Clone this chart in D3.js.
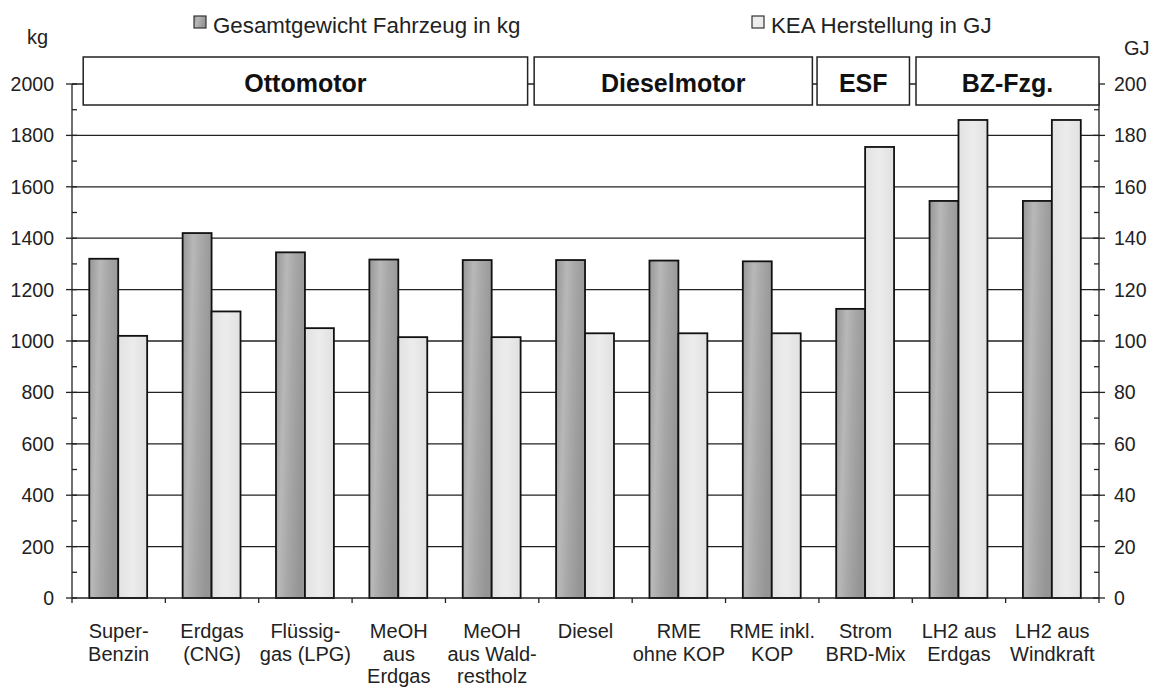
<!DOCTYPE html>
<html><head><meta charset="utf-8">
<script src="https://cdn.jsdelivr.net/npm/d3@7"></script>
<style>body{margin:0;background:#fff}svg{display:block;font-family:"Liberation Sans",Arial,sans-serif}</style>
</head><body>
<svg id="c" width="1158" height="688"></svg>
<script>
const categories = [["Super-","Benzin"],["Erdgas","(CNG)"],["Flüssig-","gas (LPG)"],["MeOH","aus","Erdgas"],["MeOH","aus Wald-","restholz"],["Diesel"],["RME","ohne KOP"],["RME inkl.","KOP"],["Strom","BRD-Mix"],["LH2 aus","Erdgas"],["LH2 aus","Windkraft"]];
const gewichtKg = [1320,1420,1345,1317,1315,1315,1313,1310,1125,1545,1545];
const keaGJ = [102,111.5,105,101.5,101.5,103,103,103,175.5,186,186];
const kgTicks = [0,200,400,600,800,1000,1200,1400,1600,1800,2000];
const gjTicks = [0,20,40,60,80,100,120,140,160,180,200];
const groups = [{name:"Ottomotor",from:0.12,to:4.88},{name:"Dieselmotor",from:4.95,to:7.93},{name:"ESF",from:7.98,to:8.97},{name:"BZ-Fzg.",from:9.04,to:11}];
const seriesNames = ["Gesamtgewicht Fahrzeug in kg","KEA Herstellung in GJ"];

const svg = d3.select("#c");
const L=72,R=1099,T=84,B=598;
const defs = svg.append("defs");
const gd = defs.append("linearGradient").attr("id","gDark").attr("x1","0").attr("x2","1").attr("y1","0").attr("y2","0.3");
[[0,"#969696"],[0.35,"#b8b8b8"],[0.6,"#a8a8a8"],[1,"#959595"]].forEach(s=>gd.append("stop").attr("offset",s[0]).attr("stop-color",s[1]));
const gl = defs.append("linearGradient").attr("id","gLight").attr("x1","0").attr("x2","1");
[[0,"#e2e2e2"],[0.5,"#ececec"],[1,"#e0e0e0"]].forEach(s=>gl.append("stop").attr("offset",s[0]).attr("stop-color",s[1]));

const x = d3.scaleBand().domain(d3.range(categories.length)).range([L,R]).padding(0);
const xi = d3.scaleLinear().domain([0,categories.length]).range([L,R]);
const yL = d3.scaleLinear().domain([0,2000]).range([B,T]);
const yR = d3.scaleLinear().domain([0,200]).range([B,T]);
const bw = x.bandwidth()*0.31, off = x.bandwidth()*0.185;

// gridlines
svg.append("g").selectAll("line").data(kgTicks.filter(d=>d>0)).join("line")
  .attr("x1",L).attr("x2",R).attr("y1",d=>yL(d)).attr("y2",d=>yL(d))
  .attr("stroke","#222").attr("stroke-width",1.3);

// bars
const g = svg.append("g");
g.selectAll("rect.d").data(gewichtKg).join("rect").attr("class","d")
  .attr("x",(d,i)=>x(i)+off).attr("width",bw).attr("y",d=>yL(d)).attr("height",d=>B-yL(d))
  .attr("fill","url(#gDark)").attr("stroke","#111").attr("stroke-width",1.8);
g.selectAll("rect.l").data(keaGJ).join("rect").attr("class","l")
  .attr("x",(d,i)=>x(i)+off+bw).attr("width",bw).attr("y",d=>yR(d)).attr("height",d=>B-yR(d))
  .attr("fill","url(#gLight)").attr("stroke","#111").attr("stroke-width",1.8);

// axes
const ax = svg.append("g").attr("stroke","#222").attr("stroke-width",1.3);
ax.append("line").attr("x1",L).attr("x2",L).attr("y1",T).attr("y2",B);
ax.append("line").attr("x1",R).attr("x2",R).attr("y1",T).attr("y2",B);
ax.append("line").attr("x1",L).attr("x2",R).attr("y1",B).attr("y2",B);
kgTicks.forEach(t=>{ax.append("line").attr("x1",L-6).attr("x2",L+5).attr("y1",yL(t)).attr("y2",yL(t));});
d3.range(100,2000,200).forEach(t=>{ax.append("line").attr("x1",L).attr("x2",L+5).attr("y1",yL(t)).attr("y2",yL(t));});
gjTicks.forEach(t=>{ax.append("line").attr("x1",R-6).attr("x2",R+6).attr("y1",yR(t)).attr("y2",yR(t));});
d3.range(10,200,20).forEach(t=>{ax.append("line").attr("x1",R-5).attr("x2",R).attr("y1",yR(t)).attr("y2",yR(t));});
d3.range(0,categories.length+1).forEach(i=>{ax.append("line").attr("x1",xi(i)).attr("x2",xi(i)).attr("y1",B).attr("y2",B+5);});

const txt = svg.append("g").attr("fill","#222").attr("font-size",19.5);
txt.selectAll("text.yl").data(kgTicks).join("text").attr("class","yl")
  .attr("x",L-18).attr("y",d=>yL(d)+7).attr("text-anchor","end").text(d=>d);
txt.selectAll("text.yr").data(gjTicks).join("text").attr("class","yr")
  .attr("x",R+15).attr("y",d=>yR(d)+7).attr("text-anchor","start").text(d=>d);
txt.append("text").attr("x",27).attr("y",44).attr("font-size",20).text("kg");
txt.append("text").attr("x",1124).attr("y",55).attr("font-size",20).text("GJ");

// x labels
const xl = svg.append("g").attr("fill","#222").attr("font-size",20).attr("text-anchor","middle");
categories.forEach((c,i)=>{
  const t = xl.append("text").attr("x",x(i)+x.bandwidth()/2).attr("y",638);
  c.forEach((s,j)=>t.append("tspan").attr("x",x(i)+x.bandwidth()/2).attr("dy",j?22.5:0).text(s));
});

// group boxes
const gb = svg.append("g");
groups.forEach(gr=>{
  gb.append("rect").attr("x",xi(gr.from)).attr("width",xi(gr.to)-xi(gr.from)).attr("y",57).attr("height",48)
    .attr("fill","#fff").attr("stroke","#222").attr("stroke-width",1.5);
  gb.append("text").attr("x",(xi(gr.from)+xi(gr.to))/2).attr("y",92).attr("text-anchor","middle")
    .attr("font-size",25).attr("font-weight","bold").attr("fill","#111").text(gr.name);
});

// legend
const lg = svg.append("g").attr("font-size",22.3).attr("fill","#222");
[[194,"url(#gDark)"],[752,"#ececec"]].forEach((p,i)=>{
  lg.append("rect").attr("x",p[0]).attr("y",16).attr("width",12).attr("height",12).attr("fill",p[1]).attr("stroke","#333").attr("stroke-width",1.2);
  lg.append("text").attr("x",p[0]+19).attr("y",33).text(seriesNames[i]);
});
</script>
</body></html>
